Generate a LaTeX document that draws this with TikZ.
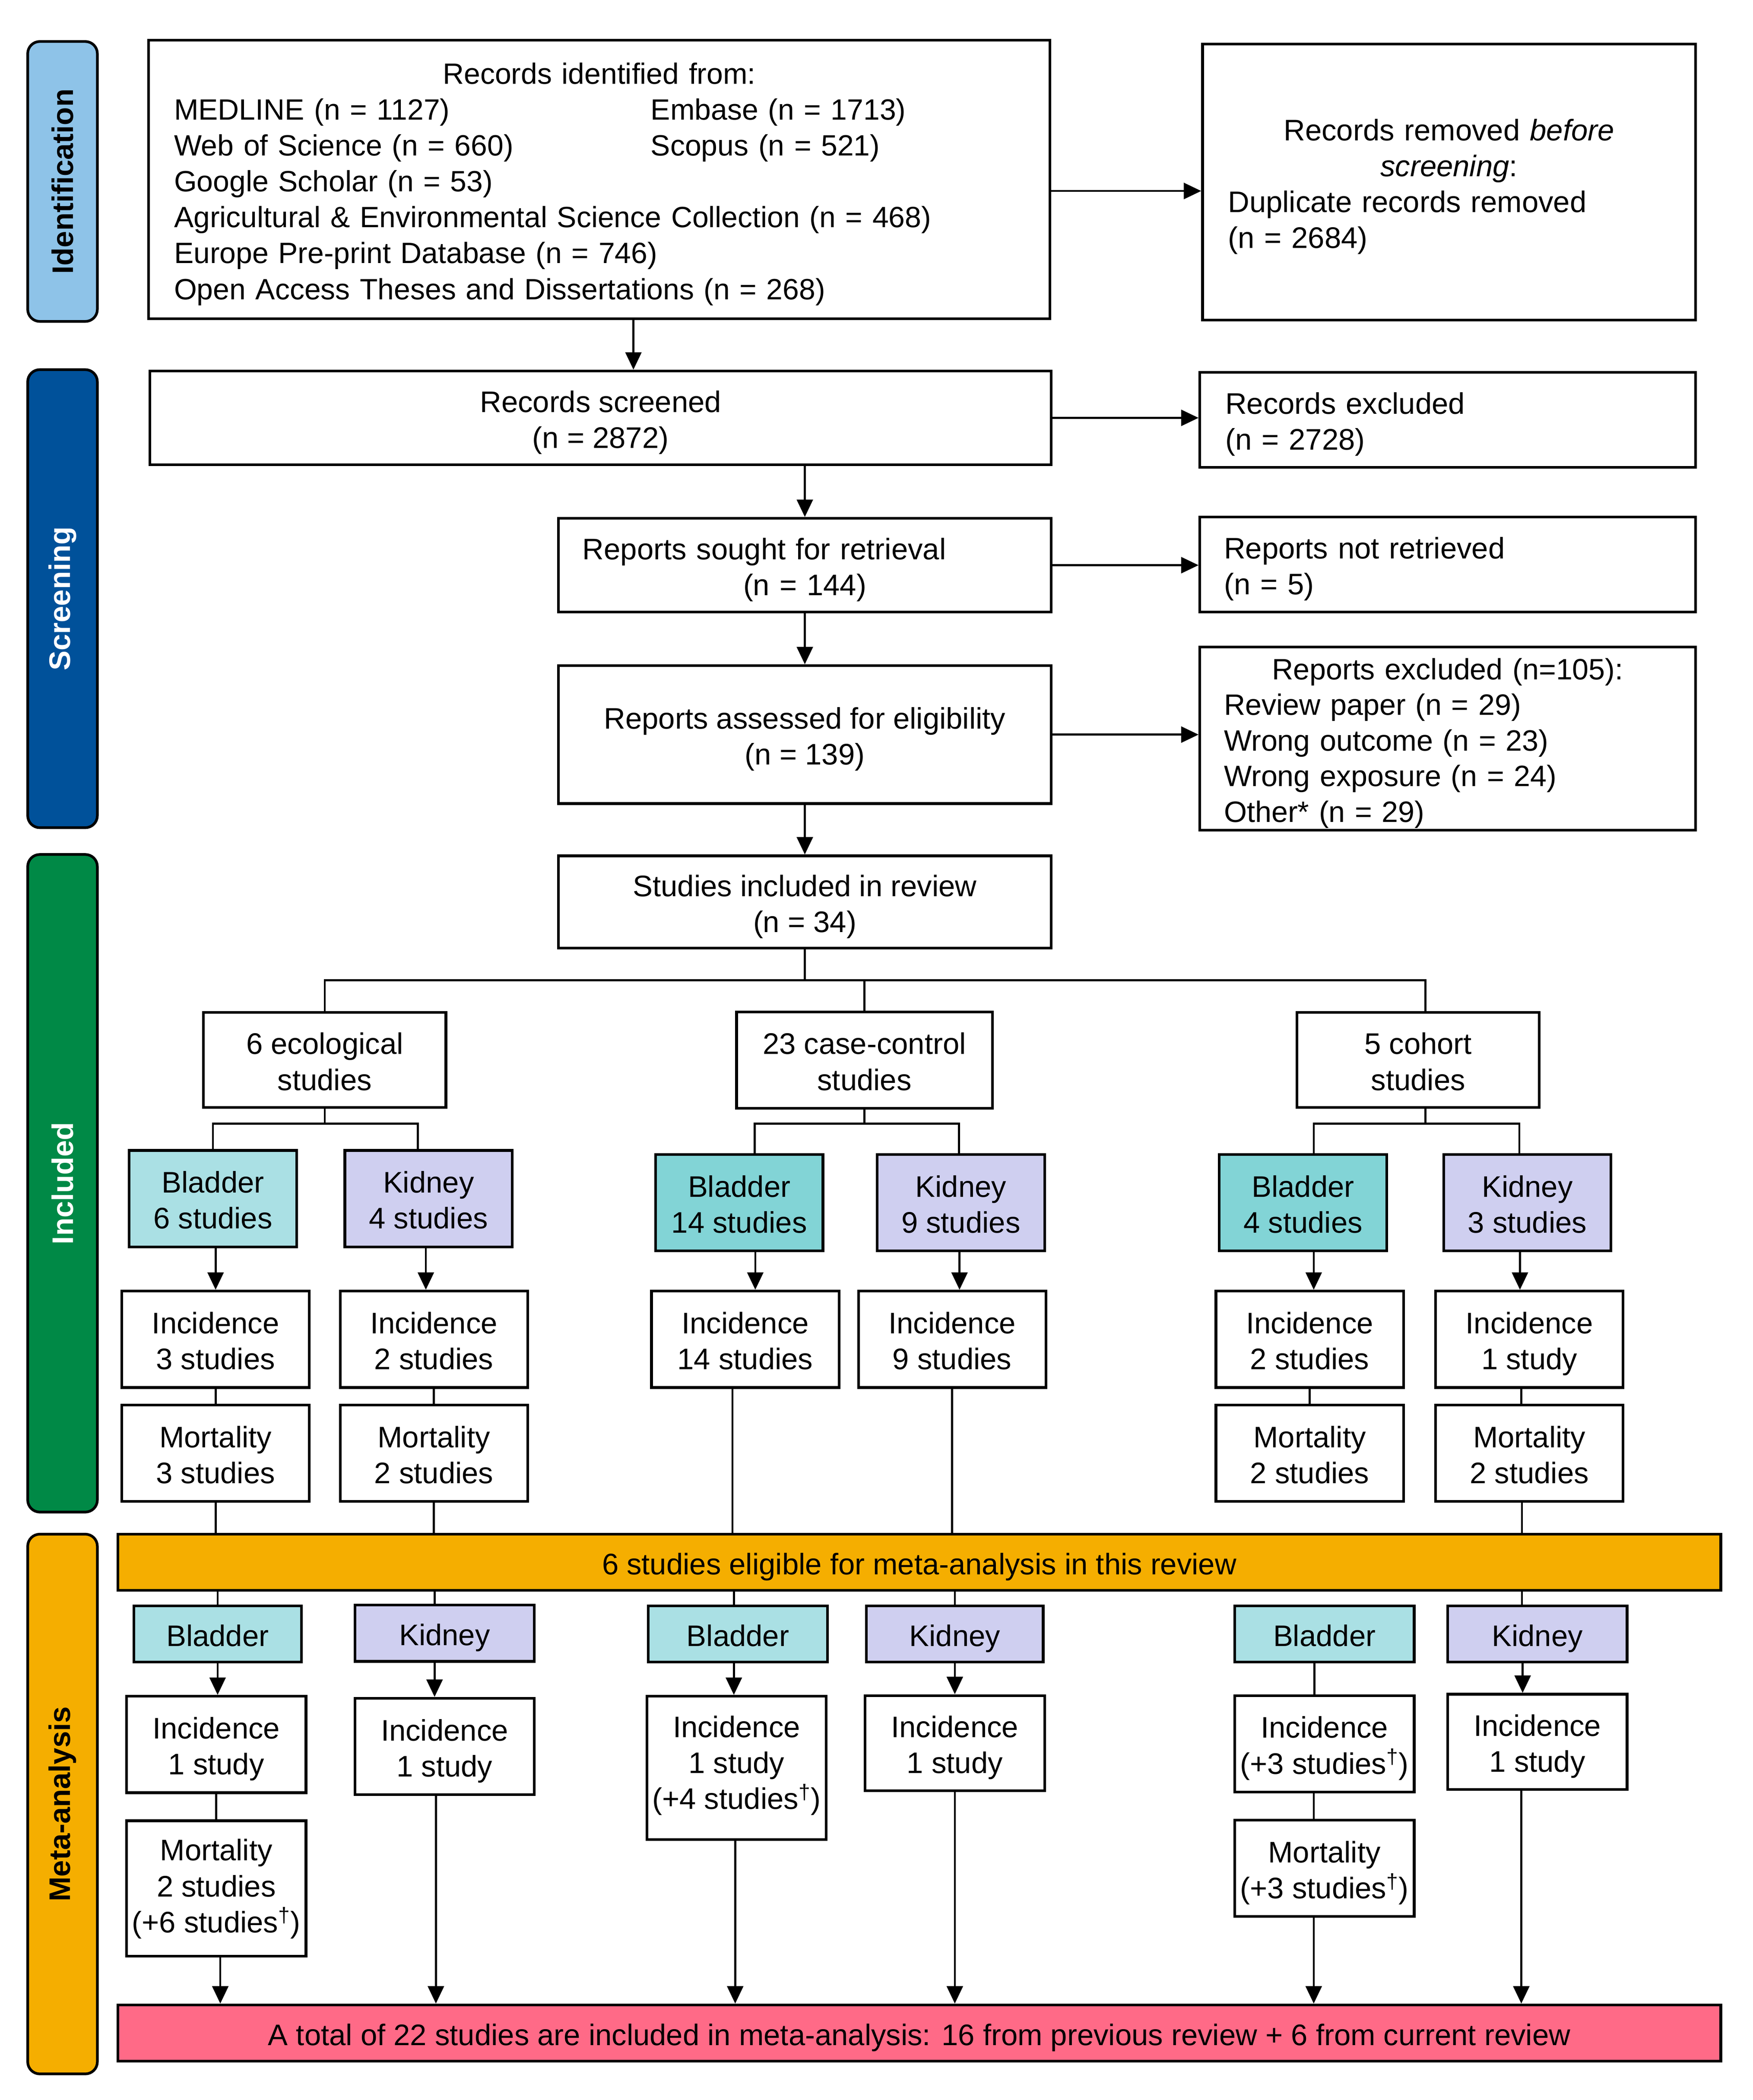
\documentclass[tikz,border=0pt]{standalone}
\usepackage{fontspec}
\setmainfont{Liberation Sans}
\usetikzlibrary{positioning, arrows.meta}

\definecolor{identblue}{RGB}{142,195,232}
\definecolor{screenblue}{RGB}{0,81,154}
\definecolor{inclgreen}{RGB}{0,137,70}
\definecolor{metaorange}{RGB}{245,174,0}
\definecolor{totalred}{RGB}{255,106,135}
\definecolor{bladderlight}{RGB}{170,224,228}
\definecolor{bladderteal}{RGB}{130,212,214}
\definecolor{kidneyblue}{RGB}{207,207,240}

\newcommand{\prismafont}{\fontsize{22.2pt}{26.8pt}\selectfont}
\newcommand{\dg}{\textsuperscript{\textdagger}}

\begin{document}
\begin{tikzpicture}[x=1pt, y=-1pt, font=\prismafont, >={Triangle[length=13pt,width=12pt]}]
        \tikzset{pbox/.style={draw, line width=2pt, inner sep=0pt, align=flush center,
                              execute at begin node={\rule{0pt}{24.2pt}},
                              execute at end node={\rule[-6pt]{0pt}{0pt}}},
                 stagebar/.style={draw, line width=2pt, rounded corners=9pt, rotate=90, inner sep=0pt,
                                  minimum height=52pt, font=\prismafont\bfseries},
                 linkline/.style={line width=1.5pt},
                 organbox/.style={pbox, minimum width=125pt, minimum height=72pt, text width=121pt},
                 cellbox/.style={pbox, minimum width=140pt, minimum height=72pt, text width=136pt},
                 tagbox/.style={pbox, minimum width=134pt, minimum height=42pt, text width=124pt},
                 metabox/.style={pbox, minimum width=134pt, text width=130pt},
                 spanbar/.style={pbox, minimum width=1197pt, minimum height=42pt, text width=1190pt}}
        \useasboundingbox (0,0) rectangle (1309,1568);

        % stages
        \node[stagebar, fill=identblue, minimum width=209pt] (s_ident) at (46.7,135.5) {Identification};
        \node[stagebar, fill=screenblue, text=white, minimum width=342pt] (s_screen) at (46.7,447) {Screening};
        \node[stagebar, fill=inclgreen, text=white, minimum width=491pt] (s_incl) at (46.7,883.5) {Included};
        \node[stagebar, fill=metaorange, minimum width=403pt] (s_meta) at (46.7,1347) {Meta-analysis};

        % identification and screening
        \node[pbox, font=\fontsize{21.9pt}{26.8pt}\selectfont, minimum width=673pt, minimum height=208pt,
              text width=635pt, align=left] (ident) at (447.5,134)
            {\makebox[635pt][c]{Records identified from:}\\
             \makebox[356pt][l]{MEDLINE (n = 1127)}Embase (n = 1713)\\
             \makebox[356pt][l]{Web of Science (n = 660)}Scopus (n = 521)\\
             Google Scholar (n = 53)\\
             Agricultural \& Environmental Science Collection (n = 468)\\
             Europe Pre-print Database (n = 746)\\
             Open Access Theses and Dissertations (n = 268)};
        \node[pbox, minimum width=368pt, minimum height=206pt, text width=330pt, align=left] (removed) at (1082,136)
            {\makebox[330pt][c]{Records removed \textit{before}}\\
             \makebox[330pt][c]{\textit{screening}:}\\
             Duplicate records removed\\
             (n = 2684)};
        \node[pbox, minimum width=673pt, minimum height=70pt, text width=640pt] (screened) at (448.5,312)
            {Records screened\\(n = 2872)};
        \node[pbox, minimum width=370pt, minimum height=71pt, text width=332pt, align=left] (excluded) at (1081,313.5)
            {Records excluded\\(n = 2728)};
        \node[pbox, minimum width=368pt, minimum height=70pt, text width=332pt, align=left] (sought) at (601,422)
            {Reports sought for retrieval\\\makebox[332pt][c]{(n = 144)}};
        \node[pbox, minimum width=370pt, minimum height=71pt, text width=334pt, align=left] (notretr) at (1081,421.5)
            {Reports not retrieved\\(n = 5)};
        \node[pbox, minimum width=368pt, minimum height=103pt, text width=340pt] (assessed) at (601,548.5)
            {Reports assessed for eligibility\\(n = 139)};
        \node[pbox, font=\fontsize{22pt}{26.6pt}\selectfont, minimum width=370pt, minimum height=133pt,
              text width=334pt, align=left] (repexcl) at (1081,551.5)
            {\makebox[334pt][c]{Reports excluded (n=105):}\\
             Review paper (n = 29)\\
             Wrong outcome (n = 23)\\
             Wrong exposure (n = 24)\\
             Other* (n = 29)};
        \node[pbox, minimum width=368pt, minimum height=69pt, text width=340pt] (included) at (601,673.5)
            {Studies included in review\\(n = 34)};

        % included studies
        \node[pbox, minimum width=181pt, minimum height=71pt, text width=175pt] (eco) at (242.5,791.5) {6 ecological\\studies};
        \node[pbox, minimum width=191pt, minimum height=72pt, text width=185pt] (cc) at (645.5,791.5) {23 case-control\\studies};
        \node[pbox, minimum width=181pt, minimum height=71pt, text width=175pt] (coh) at (1059,791.5) {5 cohort\\studies};

        \node[organbox, fill=bladderlight] (ecoB) at (159,895) {Bladder\\6 studies};
        \node[organbox, fill=kidneyblue] (ecoK) at (320,895) {Kidney\\4 studies};
        \node[organbox, fill=bladderteal] (ccB) at (552,898) {Bladder\\14 studies};
        \node[organbox, fill=kidneyblue] (ccK) at (717.5,898) {Kidney\\9 studies};
        \node[organbox, fill=bladderteal] (cohB) at (973,898) {Bladder\\4 studies};
        \node[organbox, fill=kidneyblue] (cohK) at (1140.5,898) {Kidney\\3 studies};

        \node[cellbox] (ecoBi) at (161,1000) {Incidence\\3 studies};
        \node[cellbox, below=11pt of ecoBi] (ecoBm) {Mortality\\3 studies};
        \node[cellbox] (ecoKi) at (324,1000) {Incidence\\2 studies};
        \node[cellbox, below=11pt of ecoKi] (ecoKm) {Mortality\\2 studies};
        \node[cellbox] (ccBi) at (556.5,1000) {Incidence\\14 studies};
        \node[cellbox] (ccKi) at (711,1000) {Incidence\\9 studies};
        \node[cellbox] (cohBi) at (978,1000) {Incidence\\2 studies};
        \node[cellbox, below=11pt of cohBi] (cohBm) {Mortality\\2 studies};
        \node[cellbox] (cohKi) at (1142,1000) {Incidence\\1 study};
        \node[cellbox, below=11pt of cohKi] (cohKm) {Mortality\\2 studies};

        % meta-analysis
        \node[spanbar, fill=metaorange] (eligible) at (686.5,1166.5) {6 studies eligible for meta-analysis in this review};

        \node[tagbox, fill=bladderlight, minimum width=125pt, text width=120pt] (mEcoB) at (162.5,1220) {Bladder};
        \node[tagbox, fill=kidneyblue] (mEcoK) at (332,1219.5) {Kidney};
        \node[tagbox, fill=bladderlight] (mCcB) at (551,1220) {Bladder};
        \node[tagbox, fill=kidneyblue, minimum width=132pt] (mCcK) at (713,1220) {Kidney};
        \node[tagbox, fill=bladderlight] (mCohB) at (989,1220) {Bladder};
        \node[tagbox, fill=kidneyblue] (mCohK) at (1148,1220) {Kidney};

        \node[metabox, minimum height=72pt] (mEcoBi) at (161.5,1302.5) {Incidence\\1 study};
        \node[metabox, minimum height=101pt, below=19pt of mEcoBi,
              execute at end node={\rule[-12pt]{0pt}{0pt}}] (mEcoBm) {Mortality\\2 studies\\(+6 studies\dg)};
        \node[metabox, minimum height=72pt] (mEcoKi) at (332,1304) {Incidence\\1 study};
        \node[metabox, minimum height=107pt, execute at end node={\rule[-16pt]{0pt}{0pt}}] (mCcBi) at (550,1320)
            {Incidence\\1 study\\(+4 studies\dg)};
        \node[metabox, minimum height=71pt] (mCcKi) at (713,1301.5) {Incidence\\1 study};
        \node[metabox, minimum height=72pt] (mCohBi) at (989,1302) {Incidence\\(+3 studies\dg)};
        \node[metabox, minimum height=72pt, below=19pt of mCohBi] (mCohBm) {Mortality\\(+3 studies\dg)};
        \node[metabox, minimum height=71pt] (mCohKi) at (1148,1300.5) {Incidence\\1 study};

        \node[spanbar, fill=totalred] (total) at (686.5,1518)
            {A total of 22 studies are included in meta-analysis: 16 from previous review + 6 from current review};

        % flow arrows
        \path[linkline, ->]
        ([yshift=-8.6pt]ident.east) edge ([yshift=-8.6pt]ident.east -| removed.west)
        ([xshift=25.5pt]ident.south) edge ([xshift=25.5pt]ident.south |- screened.north)
        (screened.east) edge (screened.east -| excluded.west)
        (sought.north |- screened.south) edge (sought.north)
        (sought.east) edge (sought.east -| notretr.west)
        (sought.south) edge (assessed.north)
        (assessed.east) edge (assessed.east -| repexcl.west)
        (assessed.south) edge (included.north);

        % study design tree
        \coordinate (j0) at (0,732);
        \coordinate (j1) at (0,839);
        \draw[linkline] (included.south) -- (included.south |- j0);
        \draw[linkline] (eco.north) -- (eco.north |- j0) -- ([xshift=5.5pt]coh.north |- j0) -- ([xshift=5.5pt]coh.north);
        \draw[linkline] (cc.north |- j0) -- (cc.north);
        \draw[linkline] (eco.south) -- (eco.south |- j1);
        \draw[linkline] (ecoB.north) -- (ecoB.north |- j1) -- ([xshift=-8pt]ecoK.north |- j1) -- ([xshift=-8pt]ecoK.north);
        \draw[linkline] (cc.south) -- (cc.south |- j1);
        \draw[linkline] ([xshift=11.5pt]ccB.north) -- ([xshift=11.5pt]ccB.north |- j1) -- ([xshift=-1.5pt]ccK.north |- j1) -- ([xshift=-1.5pt]ccK.north);
        \draw[linkline] ([xshift=5.5pt]coh.south) -- ([xshift=5.5pt]coh.south |- j1);
        \draw[linkline] ([xshift=8pt]cohB.north) -- ([xshift=8pt]cohB.north |- j1) -- ([xshift=-6pt]cohK.north |- j1) -- ([xshift=-6pt]cohK.north);

        \path[linkline, ->]
        (ecoBi.north |- ecoB.south) edge (ecoBi.north)
        ([xshift=-2pt]ecoK.south) edge ([xshift=-2pt]ecoK.south |- ecoKi.north)
        ([xshift=12pt]ccB.south) edge ([xshift=12pt]ccB.south |- ccBi.north)
        ([xshift=-1pt]ccK.south) edge ([xshift=-1pt]ccK.south |- ccKi.north)
        ([xshift=8pt]cohB.south) edge ([xshift=8pt]cohB.south |- cohBi.north)
        ([xshift=-5.5pt]cohK.south) edge ([xshift=-5.5pt]cohK.south |- cohKi.north);

        \draw[linkline] (ecoBi) -- (ecoBm);
        \draw[linkline] (ecoKi) -- (ecoKm);
        \draw[linkline] (cohBi) -- (cohBm);
        \draw[linkline] ([xshift=-6pt]cohKi.south) -- ([xshift=-6pt]cohKm.north);

        % into and out of the eligible bar
        \draw[linkline] (ecoBm.south) -- (ecoBm.south |- eligible.north);
        \draw[linkline] (ecoKm.south) -- (ecoKm.south |- eligible.north);
        \draw[linkline] ([xshift=-9.5pt]ccBi.south) -- ([xshift=-9.5pt]ccBi.south |- eligible.north);
        \draw[linkline] (ccKi.south) -- (ccKi.south |- eligible.north);
        \draw[linkline] ([xshift=-5.5pt]cohKm.south) -- ([xshift=-5.5pt]cohKm.south |- eligible.north);

        \draw[linkline] (mEcoB.north |- eligible.south) -- (mEcoB.north);
        \draw[linkline] ([xshift=-7.5pt]mEcoK.north |- eligible.south) -- ([xshift=-7.5pt]mEcoK.north);
        \draw[linkline] ([xshift=-3pt]mCcB.north |- eligible.south) -- ([xshift=-3pt]mCcB.north);
        \draw[linkline] (mCcK.north |- eligible.south) -- (mCcK.north);
        \draw[linkline] ([xshift=-11.5pt]mCohK.north |- eligible.south) -- ([xshift=-11.5pt]mCohK.north);

        \path[linkline, ->]
        (mEcoB.south) edge (mEcoB.south |- mEcoBi.north)
        ([xshift=3pt]mEcoBm.south) edge ([xshift=3pt]mEcoBm.south |- total.north)
        ([xshift=-7.5pt]mEcoK.south) edge ([xshift=-7.5pt]mEcoK.south |- mEcoKi.north)
        ([xshift=-6.5pt]mEcoKi.south) edge ([xshift=-6.5pt]mEcoKi.south |- total.north)
        ([xshift=-3pt]mCcB.south) edge ([xshift=-3pt]mCcB.south |- mCcBi.north)
        ([xshift=-1pt]mCcBi.south) edge ([xshift=-1pt]mCcBi.south |- total.north)
        (mCcK.south) edge (mCcK.south |- mCcKi.north)
        (mCcKi.south) edge (mCcKi.south |- total.north)
        ([xshift=-8pt]mCohBm.south) edge ([xshift=-8pt]mCohBm.south |- total.north)
        ([xshift=-11pt]mCohK.south) edge ([xshift=-11pt]mCohK.south |- mCohKi.north)
        ([xshift=-12pt]mCohKi.south) edge ([xshift=-12pt]mCohKi.south |- total.north);

        \draw[linkline] (mEcoBi) -- (mEcoBm);
        \draw[linkline] ([xshift=-7.5pt]mCohB.south) -- ([xshift=-7.5pt]mCohB.south |- mCohBi.north);
        \draw[linkline] ([xshift=-8pt]mCohBi.south) -- ([xshift=-8pt]mCohBm.north);
    \end{tikzpicture}
\end{document}
